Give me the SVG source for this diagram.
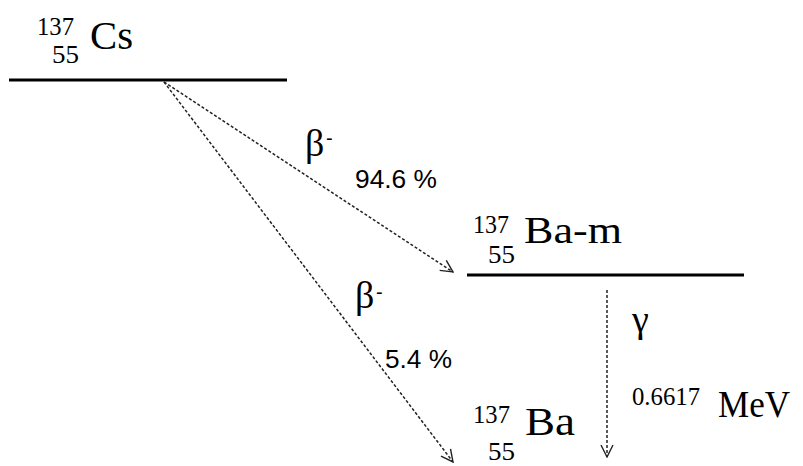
<svg xmlns="http://www.w3.org/2000/svg" width="803" height="466" viewBox="0 0 803 466">
<style>
.level{stroke:#000;stroke-width:3}
.conn{stroke:#222;stroke-width:1.5;stroke-dasharray:3 2;fill:none}
</style>
<defs>
<marker id="arr" viewBox="0 0 14 14" refX="13" refY="7" markerWidth="14" markerHeight="14" markerUnits="userSpaceOnUse" orient="auto">
<path d="M1,1 L13,7 L1,13" fill="none" stroke="#222" stroke-width="1.4"/>
</marker>
</defs>
<rect width="803" height="466" fill="#fff"/>
<g id="cs137">
<line class="level" x1="9" y1="80" x2="287" y2="80"/>
<text font-family="'Liberation Serif'" x="37" y="35" font-size="26" textLength="37" lengthAdjust="spacingAndGlyphs">137</text>
<text font-family="'Liberation Serif'" x="52" y="63" font-size="26" textLength="27" lengthAdjust="spacingAndGlyphs">55</text>
<text font-family="'Liberation Serif'" x="90" y="49" font-size="40" textLength="43" lengthAdjust="spacingAndGlyphs">Cs</text>
</g>
<g id="ba137m">
<line class="level" x1="467" y1="275" x2="744" y2="275"/>
<text font-family="'Liberation Serif'" x="473" y="233" font-size="26" textLength="36" lengthAdjust="spacingAndGlyphs">137</text>
<text font-family="'Liberation Serif'" x="488" y="263" font-size="26" textLength="27" lengthAdjust="spacingAndGlyphs">55</text>
<text font-family="'Liberation Serif'" x="524" y="243" font-size="38" textLength="98" lengthAdjust="spacingAndGlyphs">Ba-m</text>
</g>
<g id="ba137">
<text font-family="'Liberation Serif'" x="473" y="423" font-size="26" textLength="37" lengthAdjust="spacingAndGlyphs">137</text>
<text font-family="'Liberation Serif'" x="488" y="460" font-size="26" textLength="27" lengthAdjust="spacingAndGlyphs">55</text>
<text font-family="'Liberation Serif'" x="525" y="435" font-size="40" textLength="50" lengthAdjust="spacingAndGlyphs">Ba</text>
</g>
<g id="connectors">
<line class="conn" x1="164" y1="82" x2="453" y2="272" marker-end="url(#arr)"/>
<line class="conn" x1="164" y1="82" x2="453" y2="462" marker-end="url(#arr)"/>
<line class="conn" x1="607" y1="290" x2="607" y2="457" marker-end="url(#arr)"/>
</g>
<g id="labels">
<text font-family="'Liberation Serif'" x="305" y="156" font-size="38">β</text>
<text font-family="'Liberation Sans'" x="326" y="145" font-size="20">-</text>
<text font-family="'Liberation Sans'" x="355" y="188" font-size="26" textLength="82" lengthAdjust="spacingAndGlyphs">94.6 %</text>
<text font-family="'Liberation Serif'" x="355" y="308" font-size="38">β</text>
<text font-family="'Liberation Sans'" x="376" y="299" font-size="20">-</text>
<text font-family="'Liberation Sans'" x="385" y="368" font-size="26" textLength="67" lengthAdjust="spacingAndGlyphs">5.4 %</text>
<text font-family="'Liberation Serif'" x="632" y="332" font-size="38">γ</text>
<text font-family="'Liberation Serif'" x="632" y="405" font-size="25" textLength="68" lengthAdjust="spacingAndGlyphs">0.6617</text>
<text font-family="'Liberation Serif'" x="718" y="417" font-size="37" textLength="72" lengthAdjust="spacingAndGlyphs">MeV</text>
</g>
</svg>
